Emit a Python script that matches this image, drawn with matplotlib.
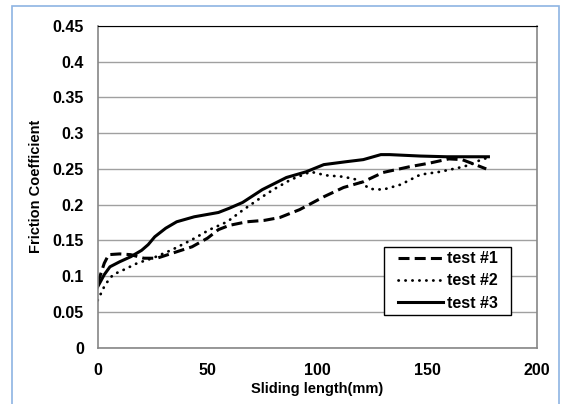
import matplotlib
matplotlib.use("Agg")
import matplotlib.pyplot as plt
from matplotlib.patches import Rectangle

plt.rcParams['font.family'] = ['Liberation Sans', 'DejaVu Sans']
plt.rcParams['font.weight'] = 'bold'

# test #1 (dashed)
x1 = [0, 3, 5, 10, 15, 21, 27, 34, 43, 50, 55, 60, 68, 76, 83, 92, 103, 112, 121, 130,
      142, 151, 160, 166, 172, 177]
y1 = [0.09, 0.118, 0.13, 0.131, 0.13, 0.125, 0.125, 0.132, 0.141, 0.153, 0.165, 0.171,
      0.176, 0.178, 0.182, 0.193, 0.211, 0.224, 0.232, 0.245, 0.253, 0.258, 0.264, 0.263,
      0.256, 0.25]

# test #2 (dotted)
x2 = [0, 3.4, 7, 12, 18, 25, 34, 43, 51, 59, 66, 74, 80, 88, 97, 104, 112, 118, 124,
      130, 138, 147, 156, 165, 170, 174, 177]
y2 = [0.066, 0.088, 0.102, 0.109, 0.118, 0.125, 0.137, 0.151, 0.165, 0.176, 0.192,
      0.209, 0.221, 0.235, 0.246, 0.241, 0.239, 0.235, 0.222, 0.221, 0.228, 0.242,
      0.246, 0.252, 0.256, 0.262, 0.265]

# test #3 (solid)
x3 = [0, 3, 5.6, 10, 15, 20, 23, 26, 31, 36, 44, 55, 60, 66, 75, 86, 95, 103, 113, 121,
      129, 133, 140, 147, 159, 178]
y3 = [0.085, 0.102, 0.113, 0.12, 0.127, 0.136, 0.144, 0.155, 0.167, 0.176, 0.183, 0.189,
      0.195, 0.203, 0.221, 0.238, 0.246, 0.256, 0.26, 0.263, 0.27, 0.27, 0.269, 0.268,
      0.267, 0.267]

fig = plt.figure(figsize=(5.63, 4.04), dpi=100)
ax = fig.add_axes([0.1735, 0.1398, 0.7798, 0.7958])

ax.plot(x1, y1, color='black', lw=2.2, linestyle=(0, (3.6, 1.7)), label='test #1')
ax.plot(x2, y2, color='black', lw=2.0, linestyle=(0, (0.1, 2.4)),
        dash_capstyle='round', label='test #2')
ax.plot(x3, y3, color='black', lw=2.2, label='test #3')

ax.set_xlim(0, 200)
ax.set_ylim(0, 0.45)
ax.set_xticks([0, 50, 100, 150, 200])
ax.set_yticks([0, 0.05, 0.1, 0.15, 0.2, 0.25, 0.3, 0.35, 0.4, 0.45])
ax.set_yticklabels(['0', '0.05', '0.1', '0.15', '0.2', '0.25', '0.3', '0.35', '0.4', '0.45'])
ax.tick_params(axis='y', length=0, labelsize=11.5, pad=10)
ax.tick_params(axis='x', length=0, labelsize=11.5, pad=11)
for lab in ax.get_xticklabels() + ax.get_yticklabels():
    lab.set_fontweight('bold')

ax.grid(axis='y', color='#a0a0a0', lw=1)
ax.set_axisbelow(True)
for s in ['left', 'bottom', 'right']:
    ax.spines[s].set_color('#868686')
    ax.spines[s].set_linewidth(1.2)
ax.spines['top'].set_color('black')

ax.set_xlabel('Sliding length(mm)', fontsize=10.5, fontweight='bold', labelpad=3)
ax.set_ylabel('Friction Coefficient', fontsize=10.5, fontweight='bold', labelpad=7)

# legend box drawn separately so it can be wider than the content
ax.add_patch(Rectangle((0.652, 0.101), 0.2895, 0.2116, transform=ax.transAxes,
                       facecolor='white', edgecolor='black', lw=1, zorder=4.5))
leg = ax.legend(loc='center', bbox_to_anchor=(0.797, 0.207), fontsize=11.5,
                frameon=False, handlelength=2.85, handletextpad=0.2,
                borderpad=0, labelspacing=0.45)
for t in leg.get_texts():
    t.set_fontweight('bold')

# light blue chart border
fig.patches.append(Rectangle((12 / 563, -0.01), 547 / 563, 1 - 6 / 404 + 0.01,
                             transform=fig.transFigure, fill=False,
                             edgecolor='#8eb4e3', lw=1.2))

fig.savefig('out.png', dpi=100)
